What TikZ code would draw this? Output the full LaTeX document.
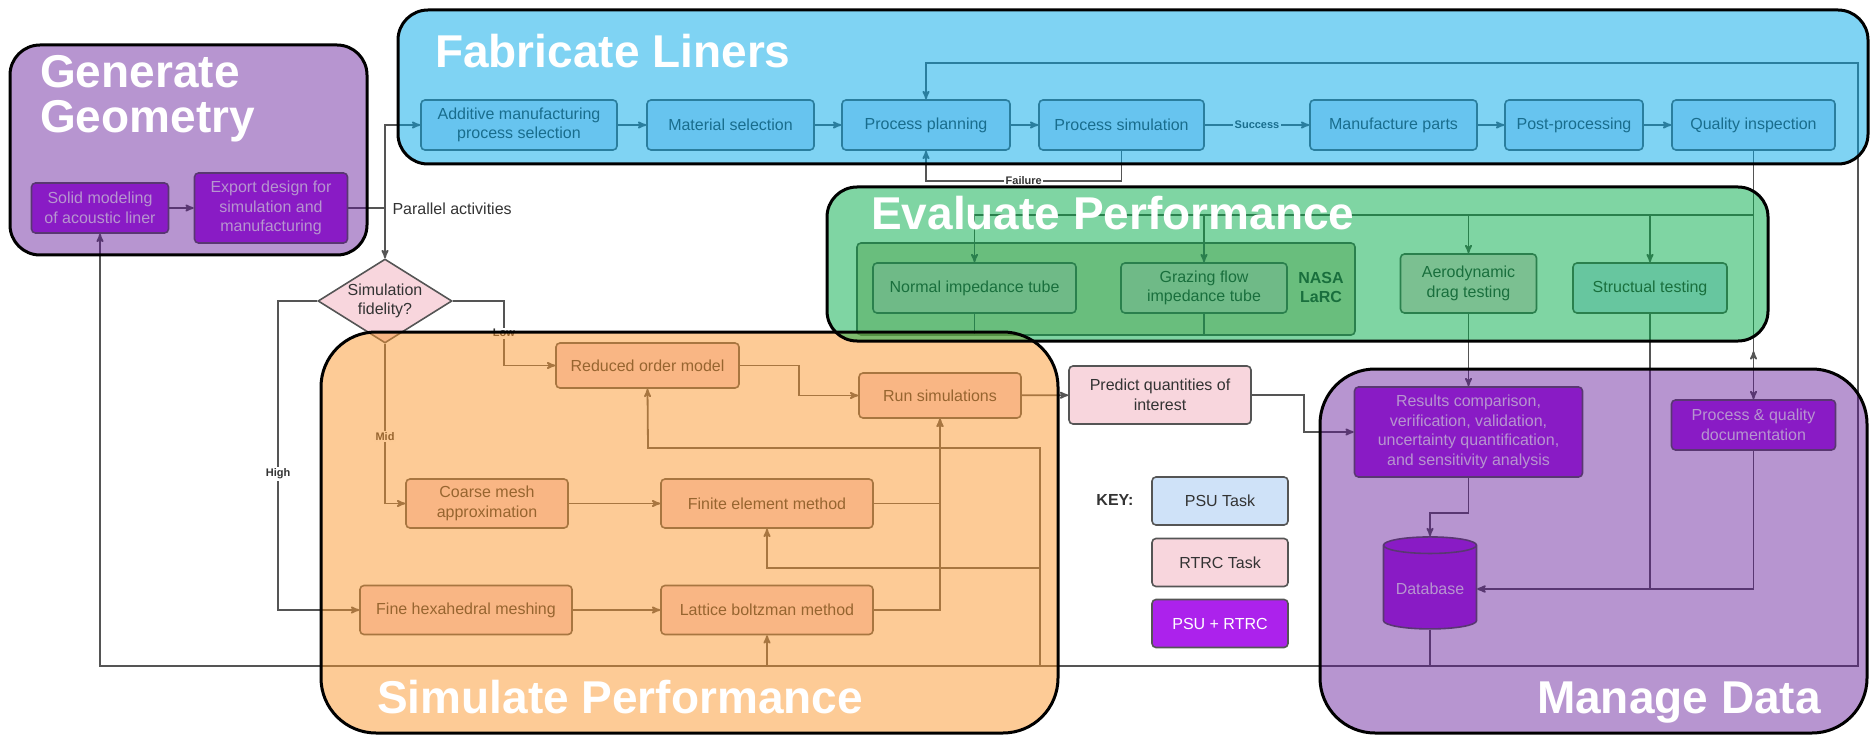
\documentclass[tikz,border=0pt]{standalone}
\usepackage{fontspec}
\setmainfont{Liberation Sans}
\usepackage{tikz}
\usetikzlibrary{arrows, shapes.geometric}

\definecolor{psublue}{HTML}{CFE2F8}
\definecolor{rtrcpink}{HTML}{F8D6DD}
\definecolor{bothpurple}{HTML}{AC22EC}
\definecolor{nasafill}{HTML}{D4D3B5}
\definecolor{tubefill}{HTML}{E0CBC9}
\definecolor{linegrey}{HTML}{555555}
\definecolor{textgrey}{HTML}{333333}
\definecolor{fabblue}{HTML}{00A7E7}
\definecolor{evalgreen}{HTML}{00AB47}
\definecolor{simorange}{HTML}{FB972D}
\definecolor{datapurple}{HTML}{5F1496}

\begin{document}
\begin{tikzpicture}[>=stealth',x=1pt,y=-1pt]
\tikzstyle{task}=[rectangle,rounded corners=4pt,draw=linegrey,line width=1.6pt,text=textgrey,align=center,inner sep=2pt,font=\fontsize{16}{19.5}\selectfont]
\tikzstyle{psutask}=[task,fill=psublue]
\tikzstyle{rtrctask}=[task,fill=rtrcpink]
\tikzstyle{bothtask}=[task,fill=bothpurple,text=white]
\tikzstyle{flow}=[->,draw=linegrey,line width=1.8pt]
\tikzstyle{wire}=[-,draw=linegrey,line width=1.8pt]
\tikzstyle{tag}=[font=\fontsize{11}{12}\selectfont\bfseries,text=textgrey,fill=white,inner sep=1.5pt]
\tikzstyle{group}=[draw=black,line width=3pt]
\tikzstyle{title}=[font=\fontsize{46}{46}\selectfont\bfseries,text=white,inner sep=0pt,anchor=base west]

\useasboundingbox (0,0) rectangle (1870,735);

        % generate geometry
        \node[bothtask,minimum width=137pt,minimum height=50pt]        (solid)    at (100,208)    {Solid modeling\\of acoustic liner};
        \node[bothtask,minimum width=153pt,minimum height=70pt]        (export)   at (271,208)    {Export design for\\simulation and\\manufacturing};
        \coordinate (split) at (385,208);
        \node[anchor=west,text=textgrey,font=\fontsize{16}{19}\selectfont] (parnote) at (389,209) {Parallel activities};

        % fabricate liners
        \node[psutask,minimum width=196pt,minimum height=50pt]         (amps)     at (519,125)    {Additive manufacturing\\process selection};
        \node[psutask,minimum width=167pt,minimum height=50pt]         (matsel)   at (730.5,125)  {Material selection};
        \node[psutask,minimum width=168pt,minimum height=50pt]         (procplan) at (926,125)    {Process planning};
        \node[psutask,minimum width=165pt,minimum height=50pt]         (procsim)  at (1121.5,125) {Process simulation};
        \node[psutask,minimum width=167pt,minimum height=50pt]         (manuf)    at (1393.5,125) {Manufacture parts};
        \node[psutask,minimum width=138pt,minimum height=50pt]         (postproc) at (1574,125)   {Post-processing};
        \node[psutask,minimum width=163pt,minimum height=50pt]         (qualinsp) at (1753.5,125) {Quality inspection};

        % evaluate performance
        \draw[draw=linegrey,fill=nasafill,line width=1.6pt,rounded corners=4pt] (857,243) rectangle (1355,335);
        \node[task,fill=tubefill,minimum width=203pt,minimum height=50pt] (normimp)  at (974.5,288)  {Normal impedance tube};
        \node[task,fill=tubefill,minimum width=166pt,minimum height=50pt] (grazing)  at (1204,288)   {Grazing flow\\impedance tube};
        \node[text=textgrey,align=center,font=\fontsize{16}{19}\selectfont\bfseries] (nasa) at (1321,287) {NASA\\LaRC};
        \node[rtrctask,minimum width=136pt,minimum height=59pt]        (aerodrag) at (1468.5,283.5) {Aerodynamic\\drag testing};
        \node[psutask,minimum width=154pt,minimum height=50pt]         (structest) at (1650,288)  {Structual testing};
        \coordinate (evalsplit) at (1753.5,215);

        % simulate performance
        \node[diamond,draw=linegrey,line width=1.6pt,fill=rtrcpink,text=textgrey,align=center,inner sep=0pt,aspect=1.6,
              minimum width=134pt,minimum height=84pt,font=\fontsize{16}{19.5}\selectfont] (fidelity) at (385,301) {Simulation\\fidelity?};
        \node[rtrctask,minimum width=183pt,minimum height=45pt]        (rom)      at (647.5,365.5) {Reduced order model};
        \node[rtrctask,minimum width=162pt,minimum height=45pt]        (runsim)   at (940,395.5)   {Run simulations};
        \node[rtrctask,minimum width=162pt,minimum height=49pt]        (coarse)   at (487,503.5)   {Coarse mesh\\approximation};
        \node[rtrctask,minimum width=212pt,minimum height=49pt]        (fem)      at (767,503.5)   {Finite element method};
        \node[rtrctask,minimum width=212pt,minimum height=49pt]        (finehex)  at (466,610)     {Fine hexahedral meshing};
        \node[rtrctask,minimum width=212pt,minimum height=49pt]        (lattice)  at (767,610)     {Lattice boltzman method};
        \node[rtrctask,minimum width=182pt,minimum height=58pt]        (predict)  at (1160,395)    {Predict quantities of\\interest};

        % key
        \node[text=textgrey,font=\fontsize{16}{19}\selectfont\bfseries] (keylbl) at (1115,500) {KEY:};
        \node[psutask,minimum width=136pt,minimum height=48pt]         (psukey)   at (1220,501)    {PSU Task};
        \node[rtrctask,minimum width=136pt,minimum height=48pt]        (rtrckey)  at (1220,562.5)  {RTRC Task};
        \node[bothtask,minimum width=136pt,minimum height=48pt]        (bothkey)  at (1220,623.5)  {PSU + RTRC};

        % manage data
        \node[bothtask,minimum width=228pt,minimum height=90pt]        (results)  at (1468.5,432)  {Results comparison,\\verification, validation,\\uncertainty quantification,\\and sensitivity analysis};
        \node[bothtask,minimum width=164pt,minimum height=50pt]        (procdoc)  at (1753.5,425)  {Process \& quality\\documentation};
        \node[cylinder,shape border rotate=90,aspect=0.22,draw=linegrey,line width=1.6pt,fill=bothpurple,text=white,
              minimum width=93pt,minimum height=92pt,font=\fontsize{16}{19}\selectfont] (database) at (1430,589) {Database};
        \coordinate (dbdrop) at (1430,666);
        \coordinate (busL)   at (100,666);
        \coordinate (busR)   at (1858,666);
        \coordinate (loopTR) at (1858,63);
        \coordinate (simup)  at (1040,666);

        \path[flow]
        (solid)    edge node {}            (export)
        (amps)     edge node {}            (matsel)
        (matsel)   edge node {}            (procplan)
        (procplan) edge node {}            (procsim)
        (procsim)  edge node[tag] {Success} (manuf)
        (manuf)    edge node {}            (postproc)
        (postproc) edge node {}            (qualinsp)
        (coarse)   edge node {}            (fem)
        (finehex)  edge node {}            (lattice)
        (runsim)   edge node {}            (predict)
        ; %end path

        \draw[wire] (export) -- (split);
        \draw[flow] (split) |- (amps.west);
        \draw[flow] (split) -- (fidelity.north);
        \draw[flow] (procsim.south) -- ++(0,30) -| node[tag,pos=0.25] {Failure} (procplan.south);

        % fidelity branches
        \draw[flow] (fidelity.east) -- ++(51,0) |- node[tag,pos=0.25] {Low} (rom.west);
        \draw[flow] (fidelity.south) |- node[tag,pos=0.29] {Mid} (coarse.west);
        \draw[flow] (fidelity.west) -- ++(-39,0) |- node[tag,pos=0.28] {High} (finehex.west);
        \draw[flow] (rom.east) -- ++(59,0) |- (runsim.west);
        \draw[flow] (fem.east) -| (runsim.south);
        \draw[flow] (lattice.east) -| (runsim.south);
        \draw[flow] (predict.east) -- ++(52,0) |- (results.west);

        % tests
        \draw[wire] (qualinsp.south) -- (evalsplit);
        \draw[flow] (evalsplit) -- (procdoc.north);
        \draw[flow] (procdoc.north) -- ++(0,-48);
        \draw[flow] (evalsplit) -| (normimp.north);
        \draw[flow] (evalsplit) -| (grazing.north);
        \draw[flow] (evalsplit) -| (aerodrag.north);
        \draw[flow] (evalsplit) -| (structest.north);
        \draw[wire] (normimp.south) -- ++(0,22);
        \draw[wire] (grazing.south) -- ++(0,22);
        \draw[flow] (aerodrag.south) -- (results.north);

        % data back to every stage
        \draw[flow] (structest.south) |- (database.east);
        \draw[flow] (procdoc.south) |- (database.east);
        \draw[flow] (results.south) -- ++(0,35) -| (database.north);
        \draw[wire] (database.south) -- (dbdrop);
        \draw[flow] (dbdrop) -- (busL) -- (solid.south);
        \draw[flow] (dbdrop) -- (busR) -- (loopTR) -| (procplan.north);
        \draw[flow] (lattice.south |- busL) -- (lattice.south);
        \draw[flow] (simup) |- ++(-392,-218) -- (rom.south);
        \draw[flow] (simup |- 0,568) -| (fem.south);

        % group shading
        \fill[fabblue,opacity=0.5,rounded corners=30pt]    (398,10) rectangle (1868,164);
        \fill[datapurple,opacity=0.45,rounded corners=30pt] (10,45) rectangle (367,255);
        \fill[datapurple,opacity=0.45,rounded corners=55pt] (1320,369) rectangle (1867,733);
        \fill[simorange,opacity=0.5,rounded corners=55pt]  (321,332) rectangle (1058,733);
        \fill[evalgreen,opacity=0.5,rounded corners=30pt]  (827,187) rectangle (1768,341);

        \draw[group,rounded corners=30pt] (398,10) rectangle (1868,164);
        \draw[group,rounded corners=30pt] (10,45) rectangle (367,255);
        \draw[group,rounded corners=55pt] (1320,369) rectangle (1867,733);
        \draw[group,rounded corners=55pt] (321,332) rectangle (1058,733);
        \draw[group,rounded corners=30pt] (827,187) rectangle (1768,341);

        \node[title] (gentitle)  at (40,88)   {Generate};
        \node[title] (geotitle)  at (40,133)  {Geometry};
        \node[title] (fabtitle)  at (435,68)  {Fabricate Liners};
        \node[title] (evaltitle) at (871,230) {Evaluate Performance};
        \node[title] (simtitle)  at (377,713) {Simulate Performance};
        \node[title,anchor=base east] (datatitle) at (1821,713) {Manage Data};

\end{tikzpicture}
\end{document}
